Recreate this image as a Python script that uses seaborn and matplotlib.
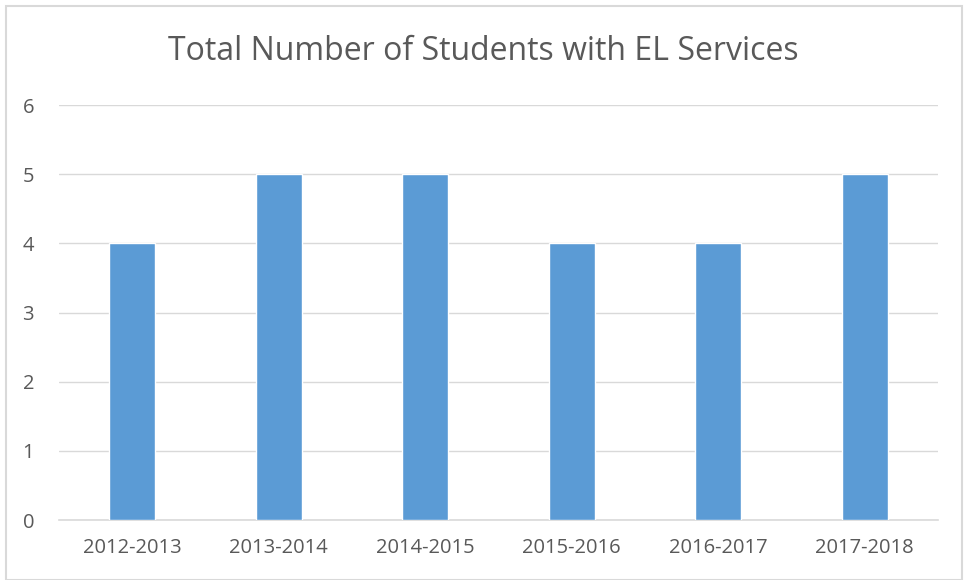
import matplotlib
matplotlib.use("Agg")
import matplotlib.pyplot as plt
import seaborn as sns
import pandas as pd
from matplotlib.patches import Rectangle

years = ["2012-2013", "2013-2014", "2014-2015", "2015-2016", "2016-2017", "2017-2018"]
students = [4, 5, 5, 4, 4, 5]
yticks = [0, 1, 2, 3, 4, 5, 6]

sns.set_theme(style="white")
plt.rcParams['font.family'] = ['Open Sans', 'DejaVu Sans']

df = pd.DataFrame({"year": years, "students": students})

fig = plt.figure(figsize=(9.67, 5.8), dpi=100)
ax = fig.add_axes([59/967, 1-520/580, (938-59)/967, (520-105)/580])
sns.barplot(data=df, x="year", y="students", color="#5B9BD5", width=0.315,
            saturation=1, ax=ax, zorder=3)
ax.set_ylim(0, 6)
ax.set_yticks(yticks)
ax.set_xlim(-0.5, len(years)-0.5)
ax.grid(axis="y", color="#D9D9D9", linewidth=1, zorder=0)
for s in ["top", "right", "left"]:
    ax.spines[s].set_visible(False)
ax.spines["bottom"].set_color("#D9D9D9")
ax.spines["bottom"].set_linewidth(1.2)
ax.set_xlabel("")
ax.set_ylabel("")
ax.tick_params(axis="both", length=0, labelsize=14.5, colors="#595959")
ax.tick_params(axis="x", pad=13)
ax.tick_params(axis="y", pad=18)
fig.text(0.5, 1-51/580, "Total Number of Students with EL Services", ha="center",
         va="center", fontsize=23, color="#595959")
fig.patches.append(Rectangle((6/967, 0.0), (962-6)/967, 1-6/580, transform=fig.transFigure,
                             fill=False, edgecolor="#D9D9D9", linewidth=1.5))
fig.savefig("out.png", dpi=100)
